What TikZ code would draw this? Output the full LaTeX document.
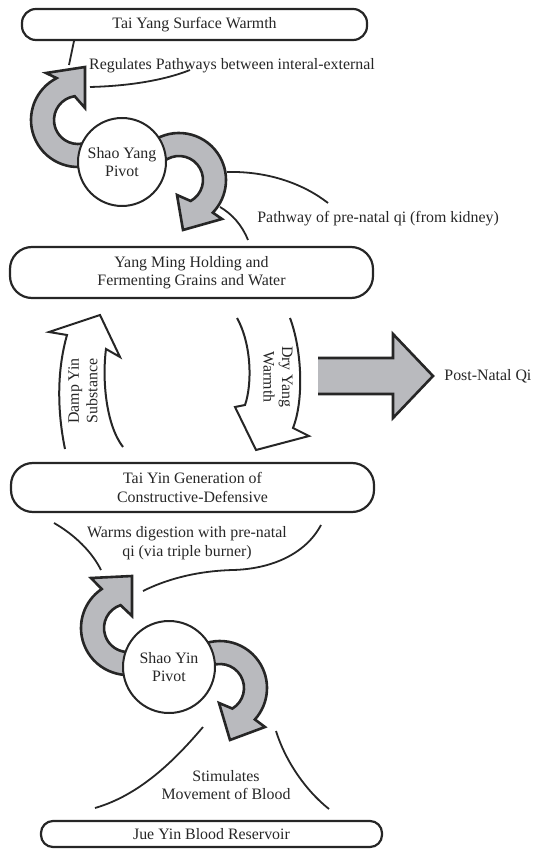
\documentclass[tikz,border=0pt]{standalone}
\usepackage{fontspec}
\setmainfont{Liberation Serif}
\usepackage{tikz}
\usetikzlibrary{arrows.meta,positioning,calc}
\definecolor{inkgray}{RGB}{38,38,38}
\definecolor{arrowgray}{RGB}{185,186,190}

\begin{document}
\begin{tikzpicture}[
  x=0.5pt, y=-0.5pt,
  font=\fontsize{7.95}{9.2}\selectfont,
  stage/.style={draw=inkgray, line width=1.1pt, align=center, text=inkgray, inner sep=0pt},
  pivot/.style={circle, draw=inkgray, fill=white, line width=1pt, minimum size=44pt, inner sep=0pt, align=center, text=inkgray},
  turn/.style={draw=inkgray, fill=arrowgray, line width=1.3pt, line join=miter},
  flow/.style={draw=inkgray, fill=white, line width=1pt, line join=miter},
  leader/.style={draw=inkgray, line width=0.9pt},
  note/.style={text=inkgray, align=center, inner sep=0pt}
]
  \useasboundingbox (0,0) rectangle (532,849);

  % Stages
  \node[stage, minimum width=172.5pt, minimum height=15.5pt, rounded corners=7pt] (taiyang) at (194.5,24.5) {Tai Yang Surface Warmth};
  \node[stage, minimum width=181.5pt, minimum height=25.5pt, rounded corners=11pt] (yangming) at (191.5,272.5) {Yang Ming Holding and\\Fermenting Grains and Water};
  \node[stage, minimum width=181.5pt, minimum height=24.5pt, rounded corners=11pt] (taiyin) at (192.5,487.5) {Tai Yin Generation of\\Constructive-Defensive};
  \node[stage, minimum width=170.5pt, minimum height=13pt, rounded corners=6pt] (jueyin) at (211.5,834) {Jue Yin Blood Reservoir};

  % Upper pivot: turning arrows
  \draw[turn] (78,120) ++(70:47) arc[start angle=70, end angle=243, radius=47]
    -- (46,73) -- (85,67) -- (85,108) -- ($(78,120)+(262:24)$)
    arc[start angle=262, end angle=70, radius=24] -- cycle;
  \draw[turn] (179,180) ++(235:47) arc[start angle=235, end angle=404, radius=47]
    -- (222,219) -- (183,230) -- (177,195) -- ($(179,180)+(421:24)$)
    arc[start angle=421, end angle=210, radius=24] -- cycle;
  \node[pivot] (shaoyang) at (122,162) {Shao Yang\\Pivot};

  % Lower pivot: turning arrows
  \draw[turn] (128,628) ++(70:47) arc[start angle=70, end angle=236, radius=47]
    -- (91,578) -- (132,576) -- (132,616) -- ($(128,628)+(252:24)$)
    arc[start angle=252, end angle=60, radius=24] -- cycle;
  \draw[turn] (220,688) ++(235:47) arc[start angle=235, end angle=402, radius=47]
    -- (265,727) -- (230,740) -- (219,703) -- ($(220,688)+(419:24)$)
    arc[start angle=419, end angle=200, radius=24] -- cycle;
  \node[pivot, minimum size=46pt] (shaoyin) at (169,667) {Shao Yin\\Pivot};

  % Exchange between Yang Ming and Tai Yin
  \draw[flow] (65,449) .. controls (57,410) and (57,370) .. (67,335) -- (49,332) -- (100,315)
    -- (120,357) -- (106,349) .. controls (102,380) and (106,425) .. (123,447);
  \draw[flow] (237,318) .. controls (252,345) and (252,385) .. (245,405) -- (235,407) -- (256,450)
    -- (309,436) -- (293,428) .. controls (304,400) and (302,350) .. (290,318);
  \node[note, rotate=90] (damp) at (83,391) {Damp Yin\\Substance};
  \node[note, rotate=-90] (dry) at (278,377) {Dry Yang\\Warmth};

  % Output
  \draw[turn] (318,358) -- (393,358) -- (393,334) -- (433,376) -- (393,418) -- (393,394) -- (318,394);
  \node[note, anchor=west] (postnatal) at (444,376) {Post-Natal Qi};

  % Labels and their brackets
  \node[note] (regulates) at (232,66) {Regulates Pathways between interal-external};
  \node[note, anchor=west] (pathway) at (257,219) {Pathway of pre-natal qi (from kidney)};
  \node[note] (warms) at (187,543) {Warms digestion with pre-natal\\qi (via triple burner)};
  \node[note] (stimulates) at (226,785) {Stimulates\\Movement of Blood};

  \draw[leader] (74,41) -- (69,65);
  \draw[leader] (90,87) .. controls (130,86) and (165,80) .. (190,70);
  \draw[leader] (227,172) .. controls (270,171) and (305,185) .. (328,203);
  \draw[leader] (220,207) .. controls (232,214) and (242,225) .. (248,240);
  \draw[leader] (54,523) .. controls (75,535) and (92,552) .. (101,570);
  \draw[leader] (143,591) .. controls (165,580) and (195,571) .. (233,570)
    .. controls (270,569) and (305,555) .. (321,525);
  \draw[leader] (203,727) .. controls (175,760) and (140,795) .. (95,808);
  \draw[leader] (276,731) .. controls (285,760) and (305,790) .. (329,809);
\end{tikzpicture}
\end{document}
